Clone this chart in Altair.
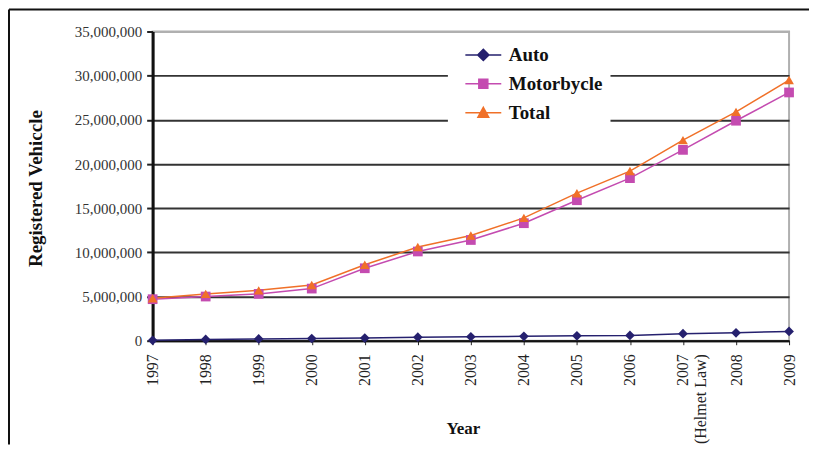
import altair as alt
import pandas as pd

years = list(range(1997, 2010))
auto = [50000, 150000, 200000, 250000, 300000, 400000, 450000, 500000, 550000, 600000, 800000, 900000, 1050000]
motorbycle = [4700000, 5000000, 5300000, 5900000, 8200000, 10100000, 11400000, 13300000, 15900000, 18400000, 21600000, 24900000, 28100000]
total = [4800000, 5300000, 5700000, 6300000, 8600000, 10600000, 11900000, 13900000, 16700000, 19200000, 22700000, 25900000, 29500000]

series_names = ["Auto", "Motorbycle", "Total"]
series_colors = ["#25206E", "#C44BB0", "#F07028"]
series_shapes = ["diamond", "square", "triangle-up"]
legend_shapes = [
    "M-4,0H4M0,-1.25L1.25,0L0,1.25L-1.25,0Z",
    "M-4,0H4M-1,-1H1V1H-1Z",
    "M-4,0H4M0,-1.2L1.2,1H-1.2Z",
]
y_ticks = [0, 5000000, 10000000, 15000000, 20000000, 25000000, 30000000, 35000000]
x_tick_values = [y / 2 for y in range(1997 * 2, 2009 * 2 + 1)]

rows = []
for name, vals in zip(series_names, [auto, motorbycle, total]):
    for yr, v in zip(years, vals):
        rows.append({"Year": yr, "Count": v, "series": name})
df = pd.DataFrame(rows)

FONT = "Liberation Serif"

x_enc = alt.X(
    "Year:Q",
    scale=alt.Scale(domain=[1997, 2009], nice=False, zero=False),
    axis=alt.Axis(
        title="Year",
        values=x_tick_values,
        labelExpr="datum.value % 1 != 0 ? '' : (datum.value == 2007 ? ['2007', '(Helmet Law)'] : format(datum.value, 'd'))",
        labelAngle=270,
        labelFont=FONT,
        labelFontSize=16,
        labelColor="#222",
        labelOverlap=False,
        labelFlush=False,
        labelBound=False,
        labelPadding=9,
        tickSize=4,
        tickColor="#222",
        domainColor="#111",
        domainWidth=2,
        grid=False,
        titleFont=FONT,
        titleFontSize=17,
        titleFontWeight="bold",
        titleColor="#111",
        titleX=311,
        titleY=88,
        titleBaseline="middle",
    ),
)

y_enc = alt.Y(
    "Count:Q",
    scale=alt.Scale(domain=[0, 35000000], nice=False),
    axis=alt.Axis(
        title="Registered Vehiccle",
        values=y_ticks,
        format=",d",
        labelFont=FONT,
        labelFontSize=15,
        labelColor="#333",
        labelPadding=5,
        tickSize=6,
        tickColor="#222",
        tickWidth=2,
        domainColor="#111",
        domainWidth=3,
        grid=True,
        gridColor={"condition": {"test": "datum.value >= 35000000", "value": "#b0b0b0"}, "value": "#333333"},
        gridWidth=2,
        titleFont=FONT,
        titleFontSize=19,
        titleFontWeight="bold",
        titleColor="#111",
        titleX=-117,
        titleY=157,
        titleAngle=270,
        titleAlign="center",
        titleBaseline="middle",
    ),
)

color_scale = alt.Scale(domain=series_names, range=series_colors)

lines = alt.Chart(df).mark_line(strokeWidth=1.5).encode(
    x=x_enc,
    y=y_enc,
    color=alt.Color("series:N", scale=color_scale, legend=None),
    detail="series:N",
)

points = alt.Chart(df).mark_point(filled=True, size=95, opacity=1).encode(
    x="Year:Q",
    y="Count:Q",
    color=alt.Color("series:N", scale=color_scale, legend=None),
    shape=alt.Shape("series:N", scale=alt.Scale(domain=series_names, range=series_shapes), legend=None),
)

leg = alt.Legend(
    title=None,
    orient="none",
    legendX=296,
    legendY=6,
    fillColor="white",
    padding=8,
    labelFont=FONT,
    labelFontSize=19,
    labelFontWeight="bold",
    labelColor="#111",
    symbolSize=81,
    symbolStrokeWidth=1.5,
    symbolOffset=18,
    labelOffset=16,
    rowPadding=9,
)

legend_layer = alt.Chart(df).transform_filter("false").mark_point(
    filled=True, size=81, strokeWidth=1.5, opacity=1
).encode(
    fill=alt.Fill("series:N", scale=alt.Scale(domain=series_names, range=series_colors), legend=leg),
    stroke=alt.Stroke("series:N", scale=alt.Scale(domain=series_names, range=series_colors), legend=leg),
    shape=alt.Shape("series:N", scale=alt.Scale(domain=series_names, range=legend_shapes), legend=leg),
)

one = alt.Data(values=[{}])
frame_left = alt.Chart(one).mark_rule(color="#111", strokeWidth=2).encode(
    x=alt.value(-144), y=alt.value(-22), y2=alt.value(414)
)
frame_top = alt.Chart(one).mark_rule(color="#111", strokeWidth=2).encode(
    x=alt.value(-144), x2=alt.value(658), y=alt.value(-22)
)

chart = (
    alt.layer(lines, points, legend_layer, frame_left, frame_top)
    .resolve_scale(color="independent", fill="independent", stroke="independent", shape="independent")
    .properties(width=638, height=310, padding=0, background="white")
    .configure_view(stroke="#b0b0b0", strokeWidth=2)
)

chart.save("out.html", embed_options={"renderer": "svg", "actions": False})
